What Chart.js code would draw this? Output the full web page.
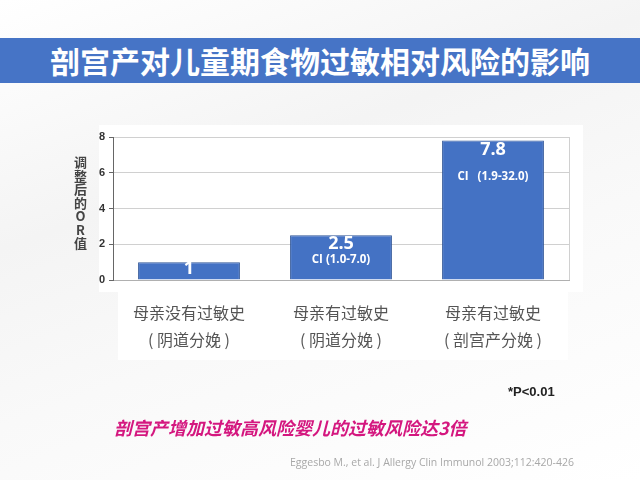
<!DOCTYPE html>
<html>
<head>
<meta charset="utf-8">
<script src="https://cdn.jsdelivr.net/npm/chart.js@4/dist/chart.umd.min.js"></script>
<style>
  html, body { margin: 0; padding: 0; }
  body {
    width: 640px; height: 480px; position: relative; overflow: hidden;
    background: linear-gradient(160deg, #ffffff 0%, #f4f4f4 35%, #f9f9f9 60%, #ffffff 100%);
    font-family: "Noto Sans CJK SC", "Noto Sans", sans-serif;
  }
  #titlebar {
    position: absolute; left: 0; top: 38px; width: 640px; height: 45px;
    background: #4674c6; color: #fff; font-weight: bold; font-size: 30px;
    line-height: 45px; text-align: center; letter-spacing: 0px;
  }
  #labelpanel {
    position: absolute; left: 118px; top: 292px; width: 450px; height: 68px; background: #ffffff;
  }
  #chartwrap { position: absolute; left: 0; top: 0; width: 640px; height: 480px; }
  #ytitle {
    position: absolute; left: 73px; top: 155px; width: 15px; word-break: break-all; text-align: center;
    font-size: 13px; font-weight: bold; color: #444; line-height: 13.5px;
  }
  #pnote { position: absolute; left: 508px; top: 384px; font-family: "Liberation Sans", Arial, sans-serif; font-weight: bold; font-size: 13px; color: #222; }
  #conclusion { position: absolute; left: 114px; top: 414px; font-size: 18px; font-weight: bold; font-style: italic; color: #d4177f; line-height: 26px; }
  #cite { position: absolute; left: 290px; top: 455px; font-family: "Open Sans", sans-serif; font-size: 10.5px; color: #a8a8a8; }
</style>
</head>
<body>
<div id="titlebar">剖宫产对儿童期食物过敏相对风险的影响</div>
<div id="labelpanel"></div>
<div id="chartwrap"><canvas id="c" width="640" height="480"></canvas></div>
<div id="ytitle">调整后的OR值</div>
<div id="pnote">*P&lt;0.01</div>
<div id="conclusion">剖宫产增加过敏高风险婴儿的过敏风险达3倍</div>
<div id="cite">Eggesbo M., et al. J Allergy Clin Immunol 2003;112:420-426</div>
<script>
const categoryLine1 = ['母亲没有过敏史', '母亲有过敏史', '母亲有过敏史'];
const categoryLine2 = ['( 阴道分娩 )', '( 阴道分娩 )', '( 剖宫产分娩 )'];
const orValues = [1, 2.5, 7.8];
const valueLabels = ['1', '2.5', '7.8'];
const ciLabels = ['', 'CI (1.0-7.0)', 'CI   (1.9-32.0)'];
const yTicks = [0, 2, 4, 6, 8];

const categories = categoryLine1.map((l, i) => [l, categoryLine2[i]]);

const plotBgAndBorder = {
  id: 'plotBgAndBorder',
  beforeDraw(chart) {
    const a = chart.chartArea, ctx = chart.ctx;
    ctx.save();
    ctx.fillStyle = '#ffffff';
    ctx.fillRect(a.left - 14, a.top - 12, a.right - a.left + 28, a.bottom - a.top + 24);
    ctx.restore();
  },
  afterDatasetsDraw(chart) {
    const a = chart.chartArea, ctx = chart.ctx;
    ctx.save();
    ctx.strokeStyle = '#d0d0d0';
    ctx.lineWidth = 1;
    ctx.beginPath();
    ctx.moveTo(Math.round(a.right) + 0.5, a.top);
    ctx.lineTo(Math.round(a.right) + 0.5, a.bottom);
    ctx.stroke();
    const meta = chart.getDatasetMeta(0);
    ctx.fillStyle = '#ffffff';
    ctx.textAlign = 'center';
    ctx.textBaseline = 'middle';
    meta.data.forEach((bar, i) => {
      const isSmall = orValues[i] < 2;
      ctx.font = 'bold 18px "Open Sans", sans-serif';
      ctx.fillText(valueLabels[i], bar.x, bar.y + (isSmall ? 7 : 9));
      if (ciLabels[i]) {
        ctx.font = 'bold 11.5px "Open Sans", sans-serif';
        ctx.fillText(ciLabels[i], bar.x, bar.y + (orValues[i] > 5 ? 36 : 24));
      }
    });
    ctx.restore();
  }
};

new Chart(document.getElementById('c'), {
  type: 'bar',
  data: {
    labels: categories,
    datasets: [{
      data: orValues,
      backgroundColor: '#4472c4',
      borderColor: '#2f5597',
      borderWidth: 1,
      barPercentage: 0.67,
      categoryPercentage: 1.0
    }]
  },
  options: {
    responsive: false,
    animation: false,
    layout: { padding: { left: 93, right: 71, top: 137, bottom: 110 } },
    plugins: { legend: { display: false }, tooltip: { enabled: false } },
    scales: {
      x: {
        grid: { display: false },
        border: { display: true, color: '#b0b0b0' },
        ticks: {
          color: '#555',
          padding: 11,
          font: { family: '"Noto Sans CJK SC"', size: 16, lineHeight: 1.7 },
          maxRotation: 0
        },
        afterFit(scale) { scale.height = 90; }
      },
      y: {
        min: 0, max: 8,
        afterBuildTicks(scale) { scale.ticks = yTicks.map(v => ({ value: v })); },
        grid: { color: '#d0d0d0', tickLength: 4, tickColor: '#666' },
        border: { display: true, color: '#666' },
        ticks: {
          color: '#333',
          padding: 4,
          font: { family: '"Liberation Sans", Arial, sans-serif', size: 11, weight: 'bold' }
        },
        afterFit(scale) { scale.width = 20; }
      }
    }
  },
  plugins: [plotBgAndBorder]
});
</script>
</body>
</html>
